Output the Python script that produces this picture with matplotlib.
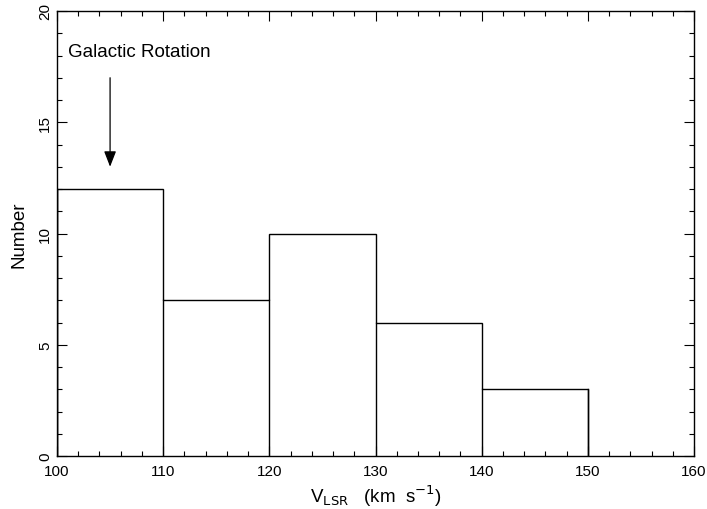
import numpy as np
import matplotlib as mpl
import matplotlib.pyplot as plt

mpl.rcParams.update({
    "font.family": ["Liberation Sans", "DejaVu Sans"], "font.size": 10.5,
    "xtick.direction": "in", "ytick.direction": "in",
    "xtick.top": True, "ytick.right": True,
})

bin_edges = [100, 110, 120, 130, 140, 150]
counts = [12, 7, 10, 6, 3]
arrow_x = 105
arrow_from, arrow_to = 17, 13
label = "Galactic Rotation"

fig = plt.figure(figsize=(7.07, 5.10), dpi=100)
ax = fig.add_axes([57 / 707, 53 / 510, 637 / 707, 445 / 510])

ax.stairs(counts, bin_edges, color="black", linewidth=1.0)
# vertical dividers between adjacent bins drawn down to zero
for e, lo, hi in zip(bin_edges[1:-1], counts[:-1], counts[1:]):
    ax.plot([e, e], [0, min(lo, hi)], color="black", linewidth=1.0)
ax.plot([bin_edges[0], bin_edges[0]], [0, counts[0]], color="black", linewidth=1.0)
ax.plot([bin_edges[-1], bin_edges[-1]], [0, counts[-1]], color="black", linewidth=1.0)

ax.annotate("", xy=(arrow_x, arrow_to), xytext=(arrow_x, arrow_from),
            arrowprops=dict(arrowstyle="-|>,head_length=0.9,head_width=0.35",
                            color="black", lw=0.9, shrinkA=0, shrinkB=0))
ax.text(101.0, 18.2, label, ha="left", va="center", fontsize=13.5)

ax.set_xlim(100, 160)
ax.set_ylim(0, 20)
ax.set_xticks(np.arange(100, 161, 10))
ax.set_xticks(np.arange(100, 161, 2), minor=True)
ax.set_yticks(np.arange(0, 21, 5))
ax.set_yticks(np.arange(0, 21, 1), minor=True)
ax.tick_params(which="major", length=7, width=0.8, labelsize=11)
ax.tick_params(axis="x", which="major", pad=6)
ax.tick_params(which="minor", length=3.5, width=0.8)
for t in ax.get_yticklabels():
    t.set_rotation(90)
    t.set_va("center")
for s in ax.spines.values():
    s.set_linewidth(1.0)

ax.set_xlabel(r"V$_{\rm LSR}$   (km  s$^{-1}$)", fontsize=13.5, labelpad=3)
ax.set_ylabel("Number", fontsize=13.5, labelpad=8)

fig.savefig("out.png", dpi=100)
